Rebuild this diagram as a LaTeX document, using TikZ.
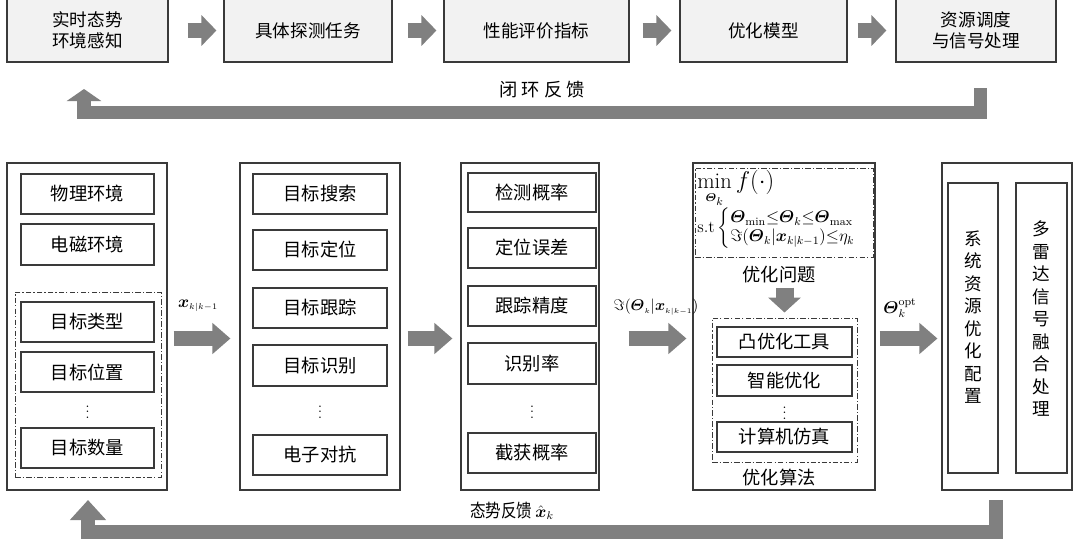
\documentclass[tikz,border=0pt]{standalone}
\usepackage{amsmath,amssymb}
\usepackage{graphicx}
\usepackage{fontspec}
\usepackage{tikz}
\usetikzlibrary{arrows.meta,positioning,calc}
\newfontfamily\cjk{Noto Sans CJK SC}
\definecolor{framegray}{HTML}{3A3A3A}
\definecolor{fillgray}{HTML}{F2F2F2}
\definecolor{arrowgray}{HTML}{808080}

\tikzset{
  wh/.style 2 args={minimum width=#1*0.025cm, minimum height=#2*0.025cm},
  topbox/.style={draw=framegray, fill=fillgray, line width=0.8pt, inner sep=0pt, align=center, font=\cjk\fontsize{12.5}{15}\selectfont},
  outbox/.style={draw=framegray, line width=0.8pt, inner sep=0pt},
  inbox/.style={draw=framegray, fill=white, line width=0.8pt, inner sep=0pt, font=\cjk\fontsize{13}{15}\selectfont},
  dotbox/.style={draw=framegray, line width=0.7pt, dash pattern=on 4pt off 1.5pt on 0.8pt off 1.5pt, inner sep=0pt},
  vdotsnode/.style={inner sep=0pt},
  vtext/.style={align=center, inner sep=0pt, font=\cjk\fontsize{12.5}{16}\selectfont},
  cjklabel/.style={font=\cjk\fontsize{13}{15}\selectfont, inner sep=0pt},
  toparrow/.style={arrowgray, line width=0.35cm, -{Triangle[length=0.375cm, width=0.75cm]}},
  fatarrow/.style={arrowgray, line width=0.375cm, -{Triangle[length=0.45cm, width=0.75cm]}}
}

\begin{document}
\begin{tikzpicture}[x=0.025cm, y=-0.025cm, >=Stealth]
\useasboundingbox (0,0) rectangle (1080,540);

  % Define nodes of the top flow
\node[topbox, wh={161}{63}] (t1) at (87.5,30.5) {实时态势\\环境感知}; \node[topbox, wh={168}{63}] (t2) at (308,30.5) {具体探测任务}; \node[topbox, wh={185}{63}] (t3) at (536.5,30.5) {性能评价指标}; \node[topbox, wh={167}{63}] (t4) at (763.5,30.5) {优化模型}; \node[topbox, wh={160}{63}] (t5) at (976,30.5) {资源调度\\与信号处理};
\node[cjklabel] (loop) at (542,90) {闭\kern3pt环\kern3pt反\kern3pt馈};

  % Define outer frames
\node[outbox, wh={160}{327}] (b1) at (87,326.5) {}; \node[outbox, wh={160}{327}] (b2) at (320,326.5) {}; \node[outbox, wh={138}{327}] (b3) at (530,326.5) {}; \node[outbox, wh={182}{327}] (b4) at (784,326.5) {}; \node[outbox, wh={130}{327}] (b5) at (1007,326.5) {};

  % Define nodes of the environment frame
\node[inbox, wh={133}{40}] (env1) at (87.5,194) {物理环境}; \node[inbox, wh={133}{41}] (env2) at (87.5,244.5) {电磁环境};
\node[dotbox, wh={146}{185}] (tgtbox) at (88,384.5) {};
\node[inbox, wh={133}{40}] (tgt1) at (87.5,322) {目标类型}; \node[inbox, wh={133}{40}] (tgt2) at (87.5,372) {目标位置}; \node[vdotsnode] (tgtdots) at (87.5,408) {$\vdots$}; \node[inbox, wh={133}{40}] (tgt3) at (87.5,448) {目标数量};

  % Define nodes of the task frame
\node[inbox, wh={134}{40}] (task1) at (320,194) {目标搜索}; \node[inbox, wh={134}{40}] (task2) at (320,250) {目标定位}; \node[inbox, wh={134}{40}] (task3) at (320,308) {目标跟踪}; \node[inbox, wh={134}{41}] (task4) at (320,365.5) {目标识别}; \node[vdotsnode] (taskdots) at (320,408) {$\vdots$}; \node[inbox, wh={134}{40}] (task5) at (320,455) {电子对抗};

  % Define nodes of the index frame
\node[inbox, wh={128}{39}] (idx1) at (532,192.5) {检测概率}; \node[inbox, wh={128}{40}] (idx2) at (532,248) {定位误差}; \node[inbox, wh={128}{40}] (idx3) at (532,306) {跟踪精度}; \node[inbox, wh={128}{41}] (idx4) at (532,363.5) {识别率}; \node[vdotsnode] (idxdots) at (532,408) {$\vdots$}; \node[inbox, wh={128}{40}] (idx5) at (532,453) {截获概率};

  % Define nodes of the optimisation frame
\node[dotbox, wh={178}{89}] (probbox) at (784,212.5) {};
\node[anchor=north west, align=left, inner sep=0pt, font=\fontsize{12}{14}\selectfont] (prob) at (697,170) {{\fontsize{16}{17}\selectfont$\displaystyle\min_{\scriptscriptstyle\boldsymbol{\varTheta}_k} f(\cdot)$}\\[-1pt] $\mathrm{s.t}\left\{\renewcommand{\arraystretch}{0.95}\begin{array}{@{}l@{}}\boldsymbol{\varTheta}_{\min}{\le}\boldsymbol{\varTheta}_k{\le}\boldsymbol{\varTheta}_{\max}\\ \Im(\boldsymbol{\varTheta}_k|\boldsymbol{x}_{k|k-1}){\le}\eta_k\end{array}\right.$};
\node[cjklabel] (probtxt) at (779,275) {优化问题};
\node[dotbox, wh={145}{144}] (algbox) at (784.5,390) {};
\node[inbox, wh={135}{30}] (alg1) at (784.5,342) {凸优化工具}; \node[inbox, wh={135}{31}] (alg2) at (784.5,380.5) {智能优化}; \node[vdotsnode] (algdots) at (784.5,409) {$\vdots$}; \node[inbox, wh={135}{30}] (alg3) at (784.5,437) {计算机仿真};
\node[cjklabel] (algtxt) at (779,478) {优化算法};

  % Define nodes of the resource frame
\node[inbox, wh={50}{290}] (sys) at (973,328) {}; \node[vtext] (systxt) at (973,317) {系\\统\\资\\源\\优\\化\\配\\置};
\node[inbox, wh={51}{290}] (fus) at (1041.5,328) {}; \node[vtext] (fustxt) at (1041.5,319) {多\\雷\\达\\信\\号\\融\\合\\处\\理};

  % Define labels of the arrows
\node (xlab) at (198,306) {\large$\boldsymbol{x}_{\scriptscriptstyle k|k-1}$}; \node[font=\fontsize{11}{13}\selectfont] (jlab) at (656,307) {$\Im(\boldsymbol{\varTheta}_{\scriptscriptstyle k}|\boldsymbol{x}_{\scriptscriptstyle k|k-1})$}; \node (olab) at (900,308) {\large$\boldsymbol{\varTheta}_k^{\mathrm{opt}}$};
\node[font=\cjk\fontsize{13}{15}\selectfont, inner sep=0pt] (back) at (512,511) {\scalebox{0.85}[1]{态势反馈}\,{\large$\hat{\boldsymbol{x}}_k$}};
\coordinate (arow) at (0,338.5); \coordinate (fbT) at (980,88); \coordinate (fbTL) at (84,112.5); \coordinate (fbTE) at (84,89); \coordinate (fbB) at (996,500); \coordinate (fbBL) at (88,532); \coordinate (fbBE) at (88,500);

  % Draw arrows between nodes
\draw[toparrow, shorten <=0.475cm, shorten >=0.175cm] (t1) -- (t2); \draw[toparrow, shorten <=0.375cm, shorten >=0.175cm] (t2) -- (t3); \draw[toparrow, shorten <=0.325cm, shorten >=0.2cm] (t3) -- (t4); \draw[toparrow, shorten <=0.25cm, shorten >=0.225cm] (t4) -- (t5);
\draw[arrowgray, line width=0.325cm, -{Triangle[length=0.3cm, width=0.85cm]}] (fbT) |- (fbTL) -- (fbTE);
\draw[fatarrow, shorten <=0.15cm, shorten >=0.225cm] (b1.east |- arow) -- (b2.west |- arow); \draw[fatarrow, shorten <=0.175cm, shorten >=0.2cm] (b2.east |- arow) -- (b3.west |- arow); \draw[fatarrow, shorten <=0.725cm, shorten >=0.15cm] (b3.east |- arow) -- (b4.west |- arow); \draw[fatarrow, shorten <=0.1cm, shorten >=0.1cm] (b4.east |- arow) -- (b5.west |- arow);
\draw[arrowgray, line width=0.45cm, -{Triangle[length=0.375cm, width=0.8cm]}, shorten <=0.1cm, shorten >=0.125cm] (algbox.north |- probtxt.south) -- (algbox.north);
\draw[arrowgray, line width=0.35cm, -{Triangle[length=0.5cm, width=0.875cm]}] (fbB) |- (fbBL) -- (fbBE);

\end{tikzpicture}
\end{document}
